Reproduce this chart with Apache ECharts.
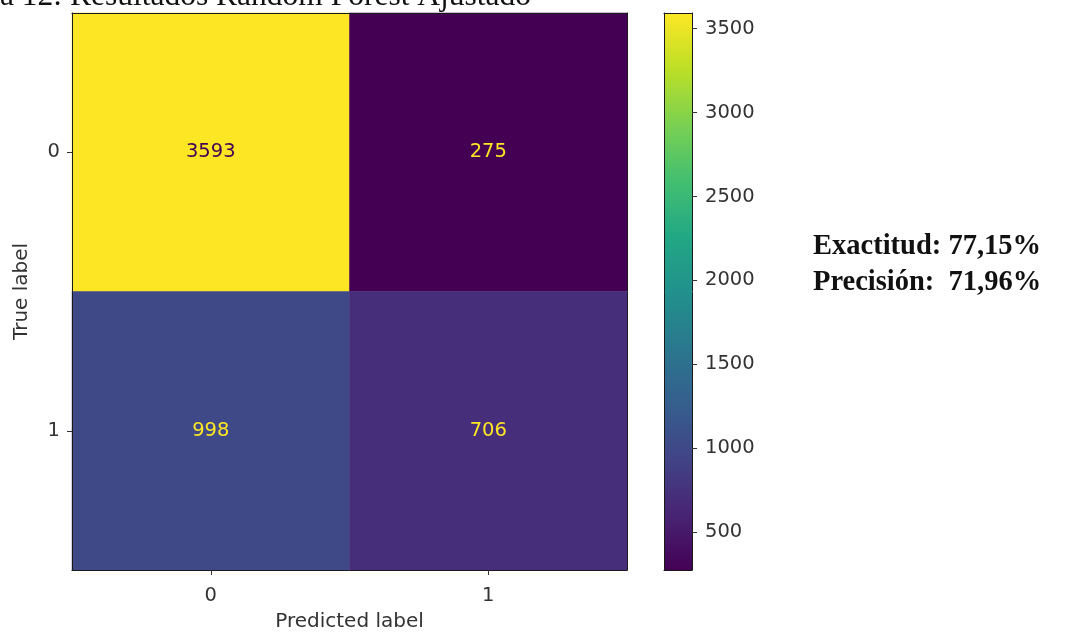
<!DOCTYPE html>
<html>
<head>
<meta charset="utf-8">
<script src="https://cdn.jsdelivr.net/npm/echarts@6/dist/echarts.min.js"></script>
<style>
  html, body { margin: 0; padding: 0; background: #fff; }
  #chart { width: 1072px; height: 633px; }
</style>
</head>
<body>
<div id="chart"></div>
<script>
// Confusion matrix of the tuned Random Forest
const predictedLabels = ['0', '1'];
const trueLabels = ['0', '1'];
const counts = [
  [3593, 275],   // true 0
  [998, 706]     // true 1
];
const colorbarTicks = [500, 1000, 1500, 2000, 2500, 3000, 3500];
const titleText = 'a 12: Resultados Random Forest Ajustado';
const metricLines = ['Exactitud: 77,15%', 'Precisión:  71,96%'];

// viridis colour map
const viridis = ['#440154', '#482475', '#414487', '#355f8d', '#2a788e', '#21918c',
                 '#22a884', '#44bf70', '#7ad151', '#bddf26', '#fde725'];

const flat = counts.flat();
const vMin = Math.min(...flat);
const vMax = Math.max(...flat);
const mid = (vMin + vMax) / 2;

const cells = [];
counts.forEach((row, r) => row.forEach((v, c) => {
  cells.push({
    value: [c, r, v],
    label: { color: v > mid ? viridis[0] : viridis[viridis.length - 1] }
  });
}));

const textColor = '#333';
const font = 'DejaVu Sans';
const fs = 19.5;

const chart = echarts.init(document.getElementById('chart'), null, { renderer: 'canvas' });

const matrixGrid = { left: 72, top: 13, width: 555, height: 557 };
const barGrid = { left: 664, top: 13, width: 28, height: 557 };

const frameLine = { show: true, onZero: false, lineStyle: { color: '#1a1a1a', width: 1 } };
const frameOnly = {
  z: 10, axisLine: frameLine, axisTick: { show: false },
  axisLabel: { show: false }, splitLine: { show: false }
};

chart.setOption({
  backgroundColor: '#fff',
  animation: false,
  grid: [
    Object.assign({ containLabel: false, outerBoundsMode: 'none' }, matrixGrid),
    Object.assign({ containLabel: false, outerBoundsMode: 'none' }, barGrid)
  ],
  visualMap: {
    show: false,
    seriesIndex: 0,
    min: vMin,
    max: vMax,
    dimension: 2,
    inRange: { color: viridis }
  },
  xAxis: [
    {
      gridIndex: 0, type: 'category', data: predictedLabels, position: 'bottom', z: 10,
      axisLine: frameLine,
      axisTick: { show: true, alignWithLabel: true, length: 5, lineStyle: { color: textColor } },
      axisLabel: { color: textColor, fontSize: fs, fontFamily: font, margin: 16 },
      splitLine: { show: false }, splitArea: { show: false },
      name: 'Predicted label', nameLocation: 'middle', nameGap: 42,
      nameTextStyle: { color: textColor, fontSize: 20, fontFamily: font }
    },
    Object.assign({ gridIndex: 0, type: 'category', data: predictedLabels, position: 'top' }, frameOnly),
    Object.assign({ gridIndex: 1, type: 'value', min: 0, max: 1, position: 'bottom' }, frameOnly),
    Object.assign({ gridIndex: 1, type: 'value', min: 0, max: 1, position: 'top' }, frameOnly)
  ],
  yAxis: [
    {
      gridIndex: 0, type: 'category', data: trueLabels, inverse: true, position: 'left', z: 10,
      axisLine: frameLine,
      axisTick: { show: true, alignWithLabel: true, length: 5, lineStyle: { color: textColor } },
      axisLabel: { color: textColor, fontSize: fs, fontFamily: font, margin: 12 },
      splitLine: { show: false }, splitArea: { show: false },
      name: 'True label', nameLocation: 'middle', nameGap: 40, nameRotate: 90,
      nameTextStyle: { color: textColor, fontSize: 20, fontFamily: font }
    },
    Object.assign({ gridIndex: 0, type: 'category', data: trueLabels, inverse: true, position: 'right' }, frameOnly),
    {
      gridIndex: 1, type: 'value', min: vMin, max: vMax, position: 'right', z: 10,
      axisLine: frameLine,
      axisTick: { show: true, inside: false, length: 5, customValues: colorbarTicks, lineStyle: { color: textColor } },
      axisLabel: {
        color: textColor, fontSize: fs, fontFamily: font, margin: 13,
        customValues: colorbarTicks, formatter: v => String(v)
      },
      splitLine: { show: false }
    },
    Object.assign({ gridIndex: 1, type: 'value', min: vMin, max: vMax, position: 'left' }, frameOnly)
  ],
  series: [
    {
      type: 'heatmap',
      xAxisIndex: 0, yAxisIndex: 0,
      data: cells,
      label: { show: true, fontSize: fs, fontFamily: font },
      itemStyle: { borderWidth: 0 },
      emphasis: { disabled: true }
    },
    {
      // colour bar: a single gradient rectangle spanning the value range
      type: 'custom',
      xAxisIndex: 2, yAxisIndex: 2,
      data: [[0, vMin, vMax]],
      encode: { x: 0, y: [1, 2] },
      silent: true,
      renderItem: function (params, api) {
        const cs = params.coordSys;
        const lo = api.coord([0, api.value(1)]);
        const hi = api.coord([0, api.value(2)]);
        return {
          type: 'rect',
          shape: { x: cs.x, y: hi[1], width: cs.width, height: lo[1] - hi[1] },
          style: {
            fill: new echarts.graphic.LinearGradient(0, 1, 0, 0,
              viridis.map((c, i) => ({ offset: i / (viridis.length - 1), color: c })))
          }
        };
      }
    }
  ],
  graphic: [
    {
      type: 'text', left: 0, top: -19,
      style: {
        text: titleText, fill: '#111',
        font: '31.5px "Liberation Serif", serif'
      }
    },
    {
      type: 'text', left: 813, top: 229,
      style: {
        text: metricLines.join('\n'),
        fill: '#111',
        font: 'bold 28.5px "Liberation Serif", serif',
        lineHeight: 36
      }
    }
  ]
});
</script>
</body>
</html>
